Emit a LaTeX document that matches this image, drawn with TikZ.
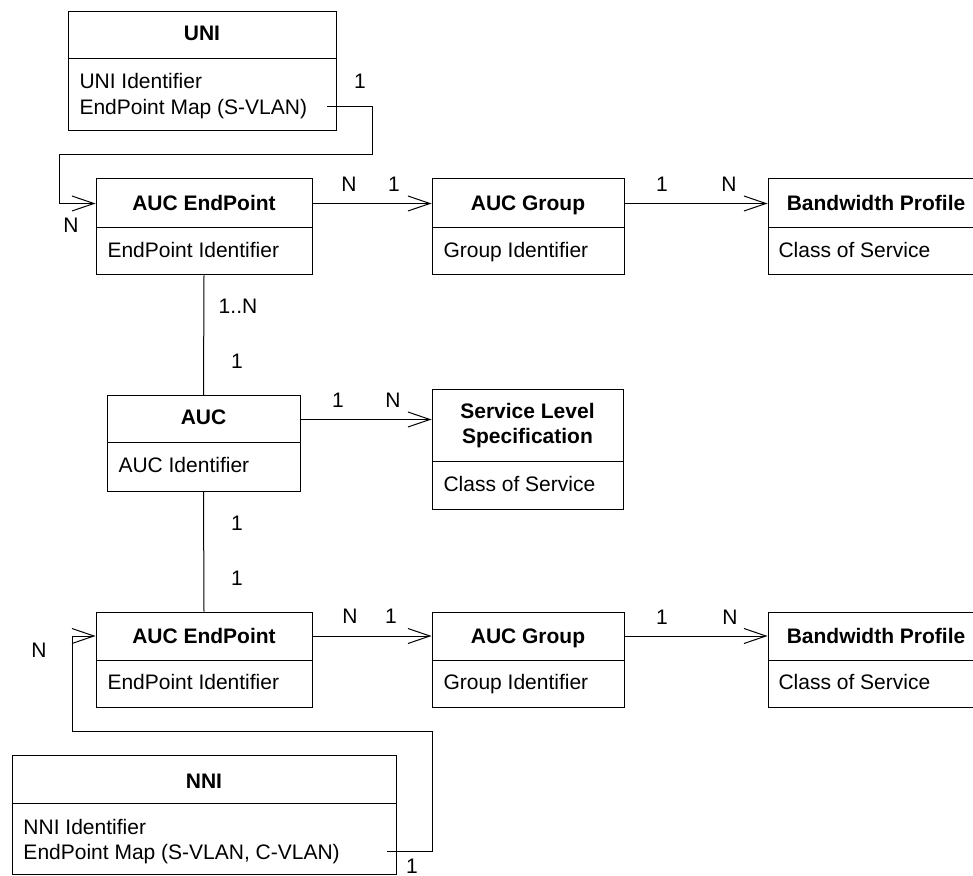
\documentclass[tikz,border=0pt]{standalone}
\usepackage{fontspec}
\setmainfont{Liberation Sans}
\usetikzlibrary{fit,arrows.meta}

\begin{document}
\begin{tikzpicture}[x=0.5pt,y=-0.5pt,line width=0.5pt,
		font=\fontsize{10.5}{12.6}\selectfont,
		box/.style={draw,inner sep=0pt},
		title/.style={anchor=base,inner sep=0pt,font=\fontsize{10.5}{12.6}\selectfont\bfseries},
		attr/.style={anchor=base west,inner sep=0pt},
		mult/.style={anchor=base,inner sep=0pt},
		assoc/.style={-{Straight Barb[length=11pt,width=7.5pt]}}]
		\clip (0,0) rectangle (973,876);
		
		% Draw UNI class.
		\node[box,fit={(68,12) (336,59)}] (unihead) {};
		\node[box,fit={(68,59) (336,131)}] (unibody) {};
		\node[title] (unit) at (202,41) {UNI};
		\node[attr] (uniid) at (79,89) {UNI Identifier};
		\node[attr] (unimap) at (79,115) {EndPoint Map (S-VLAN)};
		\coordinate (unip) at (327,107);
		
		% Draw upper row.
		\node[box,fit={(96,179) (312,228)}] (epAhead) {};
		\node[box,fit={(96,228) (312,275)}] (epAbody) {};
		\node[title] (epAt) at (204,211) {AUC EndPoint};
		\node[attr] (epAid) at (107,258) {EndPoint Identifier};
		
		\node[box,fit={(432,179) (624,228)}] (grpAhead) {};
		\node[box,fit={(432,228) (624,275)}] (grpAbody) {};
		\node[title] (grpAt) at (528,211) {AUC Group};
		\node[attr] (grpAid) at (443,258) {Group Identifier};
		
		\node[box,fit={(768,179) (984,228)}] (bwAhead) {};
		\node[box,fit={(768,228) (984,275)}] (bwAbody) {};
		\node[title] (bwAt) at (876,211) {Bandwidth Profile};
		\node[attr] (bwAcos) at (778,258) {Class of Service};
		
		% Draw AUC and SLS.
		\node[box,fit={(107,396) (300,443)}] (auchead) {};
		\node[box,fit={(107,443) (300,491)}] (aucbody) {};
		\node[title] (auct) at (203.5,425) {AUC};
		\node[attr] (aucid) at (118,473) {AUC Identifier};
		
		\node[box,fit={(432,390) (623,461)}] (slshead) {};
		\node[box,fit={(432,461) (623,509)}] (slsbody) {};
		\node[title] (slst) at (527.5,419) {Service Level};
		\node[title] (slsu) at (527.5,444) {Specification};
		\node[attr] (slscos) at (443,491) {Class of Service};
		
		% Draw lower row.
		\node[box,fit={(96,612) (312,660)}] (epBhead) {};
		\node[box,fit={(96,660) (312,707)}] (epBbody) {};
		\node[title] (epBt) at (204,643) {AUC EndPoint};
		\node[attr] (epBid) at (107,689) {EndPoint Identifier};
		
		\node[box,fit={(432,612) (624,660)}] (grpBhead) {};
		\node[box,fit={(432,660) (624,707)}] (grpBbody) {};
		\node[title] (grpBt) at (528,643) {AUC Group};
		\node[attr] (grpBid) at (443,689) {Group Identifier};
		
		\node[box,fit={(768,612) (984,660)}] (bwBhead) {};
		\node[box,fit={(768,660) (984,707)}] (bwBbody) {};
		\node[title] (bwBt) at (876,643) {Bandwidth Profile};
		\node[attr] (bwBcos) at (778,689) {Class of Service};
		
		% Draw NNI class.
		\node[box,fit={(12,755) (396,803)}] (nnihead) {};
		\node[box,fit={(12,803) (396,874)}] (nnibody) {};
		\node[title] (nnit) at (204,788) {NNI};
		\node[attr] (nniid) at (23,834) {NNI Identifier};
		\node[attr] (nnimap) at (23,859) {EndPoint Map (S-VLAN, C-VLAN)};
		\coordinate (nnip) at (387,851);
		
		% Draw associations.
		\draw[assoc] (unip) -- (372,107) -- (372,155) -- (59,155) |- (epAhead.west);
		\draw[assoc] (epAhead.east) -- (grpAhead.west);
		\draw[assoc] (grpAhead.east) -- (bwAhead.west);
		\draw (epAbody.south) -- (auchead.north);
		\draw[assoc] (auchead.east) -- (slshead.west |- auchead.east);
		\draw (aucbody.south) -- (epBhead.north);
		\draw[assoc] (epBhead.east) -- (grpBhead.west);
		\draw[assoc] (grpBhead.east) -- (bwBhead.west);
		\draw[assoc] (nnip) -- (432,851) -- (432,731) -- (72,731) |- (epBhead.west);
		
		% Multiplicities.
		\node[mult] (m1) at (360,89) {1};
		\node[mult] (m2) at (71,233) {N};
		\node[mult] (m3) at (349,192) {N};
		\node[mult] (m4) at (394,192) {1};
		\node[mult] (m5) at (662,192) {1};
		\node[mult] (m6) at (729,192) {N};
		\node[mult] (m7) at (238,314) {1..N};
		\node[mult] (m8) at (237,369) {1};
		\node[mult] (m9) at (338,408) {1};
		\node[mult] (m10) at (393,408) {N};
		\node[mult] (m11) at (237,530) {1};
		\node[mult] (m12) at (237,585) {1};
		\node[mult] (m13) at (350,623) {N};
		\node[mult] (m14) at (391,623) {1};
		\node[mult] (m15) at (662,624) {1};
		\node[mult] (m16) at (730,624) {N};
		\node[mult] (m17) at (39,657) {N};
		\node[mult] (m18) at (412,873) {1};
	\end{tikzpicture}
\end{document}
